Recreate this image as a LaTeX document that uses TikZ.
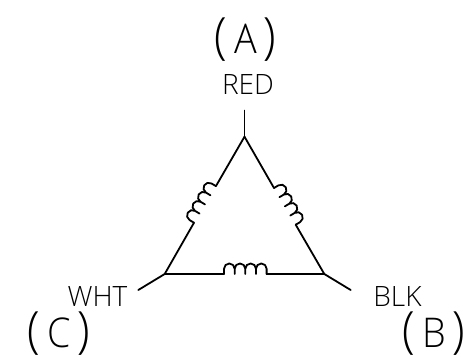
\documentclass[tikz,border=0pt]{standalone}
\usepackage{fontspec}
\setmainfont{Open Sans Light}
\newcommand{\tagtext}[1]{\scalebox{0.92}[1]{\fontsize{50}{50}\selectfont (\hspace{7.5pt}{\fontsize{41}{41}\selectfont #1}\hspace{7.5pt})}}
\newcommand{\coilsteps}{-- ++(0,-5.2) .. controls +(0,-2.94) and +(-2.94,0) .. ++(5.33,-5.33) .. controls +(2.94,0) and +(0,-2.94) .. ++(5.33,5.33) -- ++(0,5.2)}
\tikzset{
  wire/.style={line width=1.8pt,black,line cap=round,line join=round},
  wirelabel/.style={inner sep=0pt,font=\fontsize{28}{28}\selectfont},
  taglabel/.style={inner sep=0pt}
}
\begin{document}
\begin{tikzpicture}[x=1pt,y=-1pt]
\useasboundingbox (0,0) rectangle (474,360);
\fill[white] (0,0) rectangle (474,360);
\coordinate (A) at (244.5,136.7);
\coordinate (B) at (324.3,274);
\coordinate (C) at (164.7,274);
\coordinate (Aend) at (244.5,110.5);
\coordinate (Bend) at (350.7,290);
\coordinate (Cend) at (138.3,290);
\coordinate (L1) at (216,186);
\coordinate (L2) at (194,222.7);
\coordinate (R1) at (274,188);
\coordinate (R2) at (295.7,224.7);
\coordinate (M1) at (224,274);
\coordinate (M2) at (266.7,274);
\draw[wire] (Aend) -- (A);
\draw[wire] (Bend) -- (B);
\draw[wire] (Cend) -- (C);
\draw[wire] (A) -- (L1);
\draw[wire] (L2) -- (C);
\draw[wire] (C) -- (M1);
\draw[wire] (M2) -- (B);
\draw[wire] (B) -- (R2);
\draw[wire] (R1) -- (A);
\begin{scope}[shift={(M1)}]
\draw[wire] (0,0) \coilsteps \coilsteps \coilsteps \coilsteps;
\end{scope}
\begin{scope}[shift={(L2)},rotate=59]
\draw[wire] (0,0) \coilsteps \coilsteps \coilsteps \coilsteps;
\end{scope}
\begin{scope}[shift={(R1)},rotate=-59.4]
\draw[wire] (0,0) \coilsteps \coilsteps \coilsteps \coilsteps;
\end{scope}
\node[wirelabel] (red) at (248,84.5) {RED};
\node[wirelabel] (wht) at (97.5,296) {WHT};
\node[wirelabel] (blk) at (397.5,296.5) {BLK};
\node[taglabel] (tagA) at (245.5,39.5) {\tagtext{A}};
\node[taglabel] (tagC) at (59,333.5) {\tagtext{C}};
\node[taglabel] (tagB) at (434,333.5) {\tagtext{B}};
\end{tikzpicture}
\end{document}
